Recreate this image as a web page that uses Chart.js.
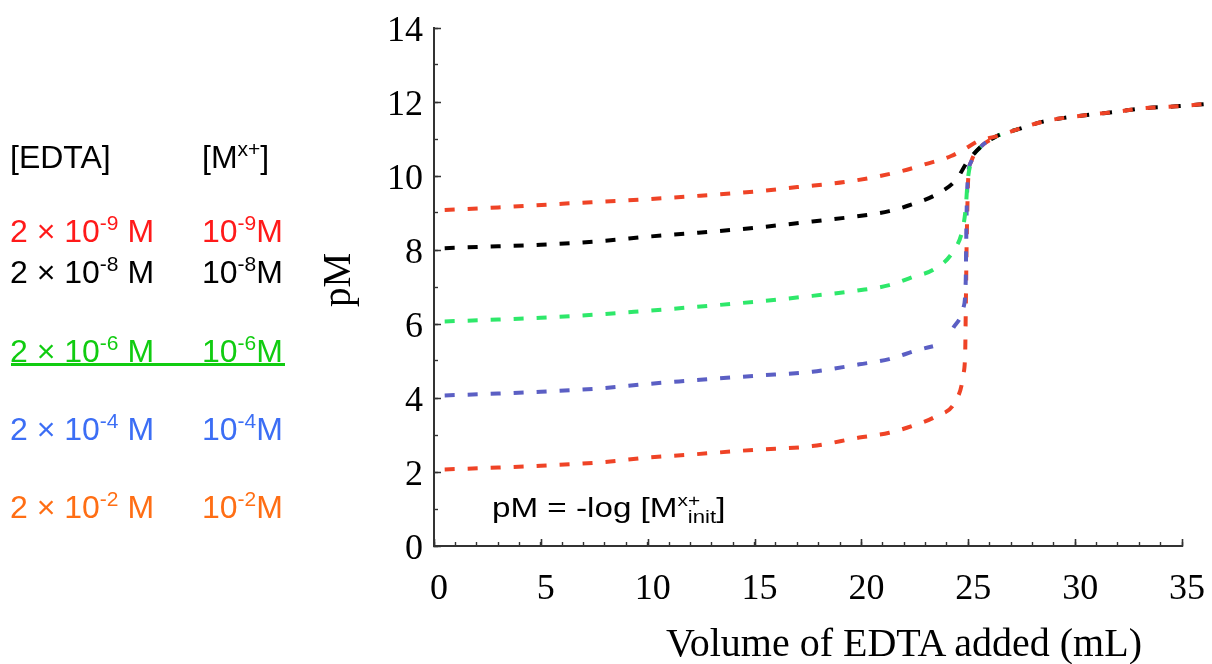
<!DOCTYPE html>
<html>
<head>
<meta charset="utf-8">
<script src="https://cdn.jsdelivr.net/npm/chart.js@4"></script>
<style>
  html,body{margin:0;padding:0;background:#fff;}
  #wrap{position:relative;width:1212px;height:664px;overflow:hidden;}
  #c{position:absolute;left:0;top:0;}
  .row{position:absolute;left:0;height:32px;font:32px 'Liberation Sans',Arial,sans-serif;line-height:32px;white-space:nowrap;}
  .c1{position:absolute;left:10px;}
  .c2{position:absolute;left:202px;}
  .sp{font-size:21px;position:relative;top:-12px;}
  #uline{position:absolute;left:11px;top:363px;width:274px;height:3px;background:#11cc11;}
  #note{position:absolute;left:492px;top:495px;font:27px 'Liberation Sans',Arial,sans-serif;line-height:27px;white-space:nowrap;transform:scaleX(1.23);transform-origin:0 0;}
  #note .asp{font-size:17px;position:relative;top:-11px;}
  #note .asb{font-size:18px;position:relative;top:6px;margin-left:-10px;}
  #xtitle{position:absolute;left:666px;top:623px;font:40px 'Liberation Serif','Times New Roman',serif;line-height:40px;white-space:nowrap;}
  #ytitle{position:absolute;left:336px;top:280px;font:39px 'Liberation Serif','Times New Roman',serif;line-height:39px;white-space:nowrap;transform:translate(-50%,-50%) rotate(-90deg);}
</style>
</head>
<body>
<div id="wrap">
  <canvas id="c" width="1212" height="664"></canvas>

  <div class="row" style="top:141px;color:#000"><span class="c1">[EDTA]</span><span class="c2">[M<span class="sp">x+</span>]</span></div>
  <div class="row" style="top:215px;color:#ff1a1a"><span class="c1">2 &times; 10<span class="sp">-9</span> M</span><span class="c2">10<span class="sp">-9</span>M</span></div>
  <div class="row" style="top:256px;color:#000"><span class="c1">2 &times; 10<span class="sp">-8</span> M</span><span class="c2">10<span class="sp">-8</span>M</span></div>
  <div class="row" style="top:335px;color:#11cc11"><span class="c1">2 &times; 10<span class="sp">-6</span> M</span><span class="c2">10<span class="sp">-6</span>M</span></div>
  <div id="uline"></div>
  <div class="row" style="top:413px;color:#3c6ef5"><span class="c1">2 &times; 10<span class="sp">-4</span> M</span><span class="c2">10<span class="sp">-4</span>M</span></div>
  <div class="row" style="top:491px;color:#ff6e14"><span class="c1">2 &times; 10<span class="sp">-2</span> M</span><span class="c2">10<span class="sp">-2</span>M</span></div>

  <div id="note">pM = -log [M<span class="asp">x+</span><span class="asb">init</span>]</div>
  <div id="xtitle">Volume of EDTA added (mL)</div>
  <div id="ytitle">pM</div>
</div>

<script>
// EDTA titration curves, pM vs volume of EDTA added

// common part after the equivalence point (curves merge here)
const tailVol=[26.3,27.3,28.5,29.6,30.9,32,33,34.9,36.2];
const tailPM =[11.07,11.26,11.47,11.58,11.67,11.74,11.82,11.89,11.95];

// [M] = 1e-9 M
const volA=[0.5,3,6,9,12,15,17,19.5,21.8,23,24.2,24.8,25.5];
const pmA =[9.08,9.15,9.25,9.34,9.45,9.58,9.70,9.86,10.12,10.32,10.54,10.72,10.95];
// [M] = 1e-8 M
const volB=[0.5,3,5,8,10,12,15,17.7,19.9,21.3,22.6,23.5,24.45,24.93,25.55];
const pmB =[8.05,8.10,8.14,8.25,8.36,8.45,8.60,8.77,8.92,9.05,9.28,9.50,9.91,10.36,10.77];
// [M] = 1e-6 M
const volC=[0.5,3,5,8,10,12,15,17.7,19.9,21.3,22.4,23.4,24.3,24.75,24.88,24.97,25.15,25.55];
const pmC =[6.07,6.12,6.17,6.27,6.36,6.45,6.60,6.76,6.91,7.05,7.27,7.48,7.97,8.60,9.14,9.86,10.41,10.77];
// [M] = 1e-4 M  (null = break in the drawn curve)
const volD=[0.5,3,5,8,10,12,15,17.7,19.9,21.3,22.6,23.35,23.8,24.3,24.77,24.88,24.9,24.92,24.97,25.15,25.55];
const pmD =[4.07,4.12,4.17,4.27,4.38,4.47,4.60,4.71,4.91,5.05,5.29,5.40,null,5.90,6.44,7.16,8.06,8.96,9.86,10.41,10.77];
// [M] = 1e-2 M
const volE=[0.5,3,5,8,10,12,15,17.7,19.9,21.3,22.6,23.5,24.4,24.77,24.86,24.88,24.9,24.92,24.95,24.99,25.15,25.55];
const pmE =[2.07,2.12,2.17,2.27,2.39,2.47,2.60,2.70,2.93,3.06,3.29,3.51,3.92,4.64,5.36,6.26,7.16,8.06,8.96,9.86,10.41,10.77];

const xTicks=[0,5,10,15,20,25,30,35];
const yTicks=[0,2,4,6,8,10,12,14];

const serif="'Liberation Serif','Times New Roman',serif";

// n = how many tail points this curve keeps (only the top ones stay visible there)
function pts(xs,ys,n){
  const X=xs.concat(tailVol.slice(0,n)),Y=ys.concat(tailPM.slice(0,n));
  return X.map((x,i)=>({x,y:Y[i]}));
}
function ds(xs,ys,n,color){
  return {data:pts(xs,ys,n),borderColor:color,borderWidth:4,borderDash:[10,13],
    pointRadius:0,cubicInterpolationMode:'monotone',fill:false,clip:false,spanGaps:false};
}

// fixed axis boxes, no extra label padding around the plot
function fixBox(s,w,h){
  if(w!=null)s.width=w;
  if(h!=null)s.height=h;
  s.paddingTop=s.paddingBottom=s.paddingLeft=s.paddingRight=0;
}

// longer tick marks at the labelled values
const majorTicks={id:'majorTicks',afterDraw(ch){
  const c=ch.ctx,a=ch.chartArea,sx=ch.scales.x,sy=ch.scales.y;
  c.save();c.strokeStyle='#333';c.lineWidth=1.6;c.beginPath();
  xTicks.forEach(v=>{const p=Math.round(sx.getPixelForValue(v))+0.5;c.moveTo(p,a.bottom);c.lineTo(p,a.bottom-7);});
  yTicks.forEach(v=>{const p=Math.round(sy.getPixelForValue(v))+0.5;c.moveTo(a.left,p);c.lineTo(a.left+7,p);});
  c.stroke();c.restore();
}};

new Chart(document.getElementById('c'),{
  type:'line',
  data:{datasets:[
    ds(volA,pmA,tailVol.length,'#ef4326'),
    ds(volB,pmB,tailVol.length,'#000000'),
    ds(volC,pmC,2,'#2ee86a'),
    ds(volD,pmD,1,'#5b5fc4'),
    ds(volE,pmE,1,'#ef4326')
  ]},
  options:{
    responsive:false,animation:false,devicePixelRatio:1,
    layout:{padding:{left:313,top:28,right:30,bottom:0}},
    plugins:{legend:{display:false},tooltip:{enabled:false}},
    scales:{
      x:{type:'linear',min:0,max:35,
        ticks:{stepSize:1,autoSkip:false,maxRotation:0,padding:26,labelOffset:5,color:'#000',
          font:{family:serif,size:36},callback:v=>xTicks.includes(v)?String(v):''},
        grid:{drawOnChartArea:false,tickLength:-4,tickColor:'#333',tickWidth:1.4},
        border:{color:'#333',width:2},
        afterFit:s=>fixBox(s,null,118)},
      y:{type:'linear',min:0,max:14,
        ticks:{stepSize:1,autoSkip:false,padding:15,labelOffset:4,color:'#000',
          font:{family:serif,size:36},callback:v=>yTicks.includes(v)?String(v):''},
        grid:{drawOnChartArea:false,tickLength:-4,tickColor:'#333',tickWidth:1.4},
        border:{color:'#333',width:2},
        afterFit:s=>fixBox(s,121,null)}
    }
  },
  plugins:[majorTicks]
});
</script>
</body>
</html>
